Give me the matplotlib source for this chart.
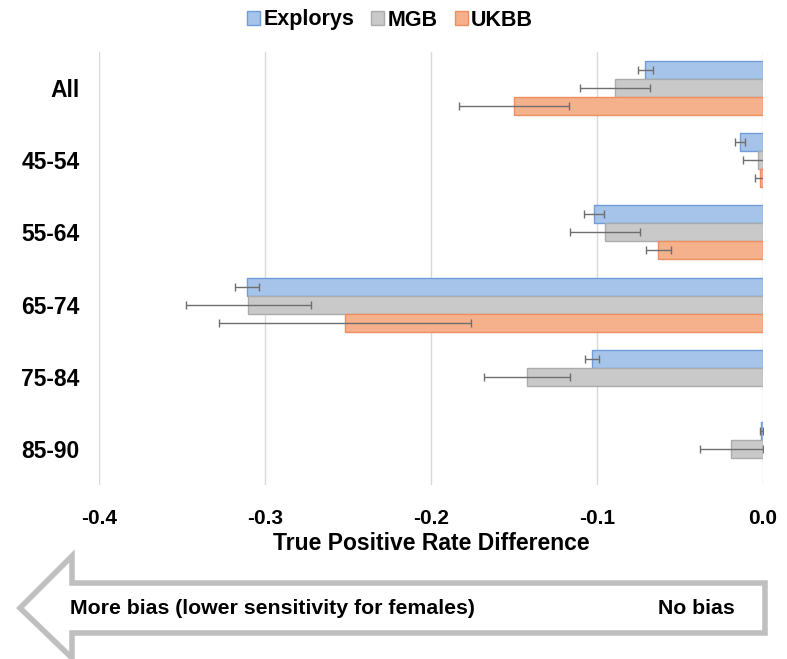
import matplotlib
matplotlib.use("Agg")
import matplotlib.pyplot as plt
import numpy as np
from matplotlib.patches import Polygon

categories = ["All", "45-54", "55-64", "65-74", "75-84", "85-90"]
series = ["Explorys", "MGB", "UKBB"]
explorys = [-0.071, -0.014, -0.102, -0.311, -0.103, -0.001]
explorys_err = [0.0045, 0.003, 0.006, 0.0073, 0.004, 0.001]
mgb = [-0.089, -0.003, -0.095, -0.310, -0.142, -0.019]
mgb_err = [0.021, 0.009, 0.021, 0.0375, 0.026, 0.019]
ukbb = [-0.150, -0.002, -0.063, -0.252, np.nan, np.nan]
ukbb_err = [0.033, 0.003, 0.0075, 0.076, np.nan, np.nan]
xticks = [-0.4, -0.3, -0.2, -0.1, 0.0]
xtick_labels = ["-0.4", "-0.3", "-0.2", "-0.1", "0.0"]

fills = ["#A6C4EA", "#C9C9C9", "#F5B08C"]
edges = ["#6F9DD9", "#ABABAB", "#EE8D5E"]

fig = plt.figure(figsize=(7.87, 6.59), dpi=100)
W, H = 787, 659
ax = fig.add_axes([99 / W, 1 - 485 / H, (763 - 99) / W, (485 - 52) / H])

y = np.arange(len(categories))
h = 0.25
vals = [explorys, mgb, ukbb]
errs = [explorys_err, mgb_err, ukbb_err]
handles = []
for i, (v, e) in enumerate(zip(vals, errs)):
    pos = y + (i - 1) * h
    v = np.array(v, dtype=float)
    e = np.array(e, dtype=float)
    ok = ~np.isnan(v)
    b = ax.barh(pos[ok], v[ok], height=h, color=fills[i], edgecolor=edges[i],
                linewidth=1.0, label=series[i], zorder=2)
    ax.errorbar(v[ok], pos[ok], xerr=e[ok], fmt="none", ecolor="#6E6E6E",
                elinewidth=1.0, capsize=3, capthick=1.0, zorder=3)
    handles.append(b)

ax.set_xlim(-0.4, 0.0)
ax.set_ylim(len(categories) - 0.5, -0.5)
ax.set_xticks(xticks)
ax.set_xticklabels(xtick_labels)
ax.set_yticks(y)
ax.set_yticklabels(categories)
ax.xaxis.grid(True, color="#D9D9D9", linewidth=1.0, zorder=0)
ax.set_axisbelow(True)
for s in ax.spines.values():
    s.set_visible(False)
ax.tick_params(axis="both", length=0)
ax.tick_params(axis="y", pad=14)
ax.tick_params(axis="x", pad=17)
for t in ax.get_yticklabels():
    t.set_fontfamily("Liberation Sans")
    t.set_fontweight("bold")
    t.set_fontsize(16.5)
for t in ax.get_xticklabels():
    t.set_fontfamily("Liberation Sans")
    t.set_fontweight("bold")
    t.set_fontsize(15)
ax.set_xlabel("True Positive Rate Difference", fontsize=16.5, fontweight="bold",
              family="Liberation Sans", labelpad=3)

leg = fig.legend(handles=handles, labels=series, loc="center",
                 bbox_to_anchor=(390 / W, 1 - 20 / H), ncol=3, frameon=False,
                 prop={"family": "Liberation Sans", "weight": "bold", "size": 15.5},
                 handlelength=0.6, handleheight=0.6, handletextpad=0.15,
                 columnspacing=0.8)

# Arrow annotation
pts = [(20, 608), (72, 556), (72, 583), (765, 583), (765, 633), (72, 633), (72, 658)]
poly = Polygon([(px / W, 1 - py / H) for px, py in pts], closed=True,
               transform=fig.transFigure, facecolor="white", edgecolor="#BFBFBF",
               linewidth=4, joinstyle="miter")
fig.add_artist(poly)
fig.text(70 / W, 1 - 608 / H, "More bias (lower sensitivity for females)",
         ha="left", va="center", fontsize=15.3, fontweight="bold",
         family="Liberation Sans")
fig.text(735 / W, 1 - 608 / H, "No bias", ha="right", va="center",
         fontsize=15.3, fontweight="bold", family="Liberation Sans")

fig.savefig("out.png", dpi=100)
